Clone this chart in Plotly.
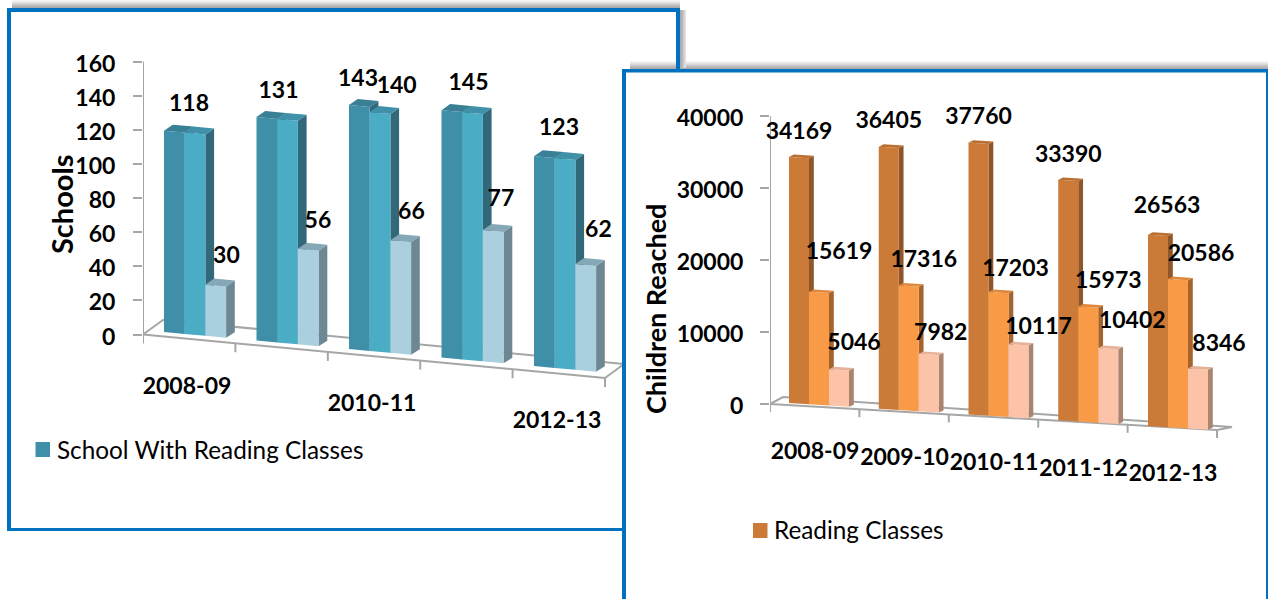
import plotly.graph_objects as go

# ---------- data ----------
school_years = ["2008-09", "2009-10", "2010-11", "2011-12", "2012-13"]
schools_a = [118, 131, 143, 145, 123]
schools_b = [118, 131, 140, 145, 123]
schools_c = [30, 56, 66, 77, 62]
schools_ticks = [0, 20, 40, 60, 80, 100, 120, 140, 160]
schools_shown_years = ["2008-09", "", "2010-11", "", "2012-13"]

children_a = [34169, 36405, 37760, 33390, 26563]
children_b = [15619, 17316, 17203, 15973, 20586]
children_c = [5046, 7982, 10117, 10402, 8346]
children_ticks = [0, 10000, 20000, 30000, 40000]

W, H = 1268, 599
FONT = "Lato"
GREY = "#A6A6A6"
BLUE = "#0070C0"
TEXT_SIZE = 23


def px(x):
    return x / W


def py(y):
    return 1 - y / H


# ---------- projection settings (screen pixels) ----------
LEFT = dict(
    xa="x", ya="y", x0=143, sx=92.4, y0=334.5, sy=1.706, dom=(143, 626), top=40, bottom=425,
    bar0=164, pitch=92.5, barw=20.7, dx=8.7, dy=5.5, base0=332, base_slope=0.092,
    fl_end=(605, 378), back_start=(163, 320), back_end=(624, 364), tick=9,
    cat_drop=(187, 388, 92.5, 8.6), label_dy=0,
    colors=[("#3F8FA8", "#397F95", "#31687A"), ("#4BACC6", "#3F90A8", "#31687A"), ("#AACFDF", "#84A8B5", "#6D8893")],
    nudges=[
        [(25, -25), (22, -25), (9, -25), (27, -26), (25, -27)],
        [None, None, (27, -25), None, None],
        [(21, -27), (20, -27), (21, -27), (18, -30), (23, -33)],
    ],
)
RIGHT = dict(
    xa="x2", ya="y2", x0=770, sx=89.4, y0=404, sy=0.0072, dom=(770, 1240), top=90, bottom=490,
    bar0=789, pitch=89.75, barw=20, dx=4.8, dy=2.2, base0=403, base_slope=0.064,
    fl_end=(1217, 430), back_start=(783, 397), back_end=(1232, 427), tick=8,
    cat_drop=(815, 453.5, 89.5, 5.5), label_dy=2,
    colors=[("#CB7A37", "#B86F30", "#8F562A"), ("#F99A47", "#E0873E", "#A5632E"), ("#FCC3A8", "#E5B199", "#A98571")],
    nudges=[
        [(10, -26), (10, -26), (10, -26), (10, -26), (19, -29)],
        [(30, -41), (25, -26), (27, -24), (30, -26), (33, -26)],
        [(25, -27), (22, -22), (30, -18), (34, -28), (31, -25)],
    ],
)


def build_panel(c, series, ticks, cats):
    tx = lambda p: (p - c["x0"]) / c["sx"]
    ty = lambda p: (c["y0"] - p) / c["sy"]
    traces = []

    def line(pts):
        traces.append(go.Scatter(
            x=[None if p is None else tx(p[0]) for p in pts],
            y=[None if p is None else ty(p[1]) for p in pts],
            xaxis=c["xa"], yaxis=c["ya"], mode="lines", hoverinfo="skip", showlegend=False,
            line=dict(color=GREY, width=2),
        ))

    # floor and axis furniture
    x0, y0 = c["x0"], c["y0"]
    xe, ye = c["fl_end"]
    floor_pts = [(x0, y0), (xe, ye), None, (x0, y0), c["back_start"], c["back_end"], (xe, ye)]
    for i in range(6):
        xt = x0 + (xe - x0) * i / 5
        yt = y0 + (ye - y0) * i / 5
        floor_pts += [None, (xt, yt), (xt, yt + c["tick"])]
    line(floor_pts)
    traces.append(go.Scatter(
        x=[0, 0], y=[ticks[0], ticks[-1]], xaxis=c["xa"], yaxis=c["ya"], mode="lines",
        hoverinfo="skip", showlegend=False, line=dict(color=GREY, width=2),
    ))

    w, dx, dy = c["barw"], c["dx"], c["dy"]
    base = lambda x: c["base0"] + c["base_slope"] * (x - c["bar0"])
    lab_x, lab_y, lab_t = [], [], []
    for s, values in enumerate(series):
        front_x, front_y, top_x, top_y, side_x, side_y = [], [], [], [], [], []
        for g, v in enumerate(values):
            xl = c["bar0"] + g * c["pitch"] + s * w
            xr = xl + w
            bl, br = ty(base(xl)), ty(base(xr))
            ddy = dy / c["sy"]
            front_x += [tx(xl), tx(xr), tx(xr), tx(xl), tx(xl), None]
            front_y += [bl, br, br + v, bl + v, bl, None]
            top_x += [tx(xl), tx(xr), tx(xr + dx), tx(xl + dx), tx(xl), None]
            top_y += [bl + v, br + v, br + v + ddy * 1.1, bl + v + ddy * 1.1, bl + v, None]
            side_x += [tx(xr), tx(xr + dx), tx(xr + dx), tx(xr), tx(xr), None]
            side_y += [br, br + ddy, br + v + ddy * 1.1, br + v, br, None]
            n = c["nudges"][s][g]
            if n is not None:
                lab_x.append(tx(xl + n[0]))
                lab_y.append(bl + v - (n[1] + c["label_dy"]) / c["sy"])
                lab_t.append(str(v))
        cols = c["colors"][s]
        for xs, ys, col in ((side_x, side_y, cols[2]), (front_x, front_y, cols[0]), (top_x, top_y, cols[1])):
            traces.append(go.Scatter(
                x=xs, y=ys, xaxis=c["xa"], yaxis=c["ya"], mode="lines", fill="toself", fillcolor=col,
                line=dict(width=0, color=col), hoverinfo="skip", showlegend=False,
            ))

    # category labels, sheared with the floor
    cx, cy, step, drop = c["cat_drop"]
    traces.append(go.Scatter(
        x=[tx(cx + i * step) for i in range(5)], y=[ty(cy + i * drop) for i in range(5)],
        text=cats, mode="text", xaxis=c["xa"], yaxis=c["ya"], cliponaxis=False, hoverinfo="skip",
        showlegend=False, textposition="middle center",
        textfont=dict(family=FONT, size=TEXT_SIZE, color="#000000", weight=700),
    ))
    # value labels
    traces.append(go.Scatter(
        x=lab_x, y=lab_y, text=lab_t, mode="text", xaxis=c["xa"], yaxis=c["ya"], cliponaxis=False,
        hoverinfo="skip", showlegend=False, textposition="middle center",
        textfont=dict(family=FONT, size=TEXT_SIZE, color="#000000", weight=700),
    ))
    return traces


fig = go.Figure()
fig.add_traces(build_panel(LEFT, [schools_a, schools_b, schools_c], schools_ticks, schools_shown_years))
fig.add_traces(build_panel(RIGHT, [children_a, children_b, children_c], children_ticks, school_years))


def axes(c, ticks, standoff):
    xr = [(c["dom"][0] - c["x0"]) / c["sx"], (c["dom"][1] - c["x0"]) / c["sx"]]
    yr = [(c["y0"] - c["bottom"]) / c["sy"], (c["y0"] - c["top"]) / c["sy"]]
    xax = dict(domain=[px(c["dom"][0]), px(c["dom"][1])], range=xr, visible=False, fixedrange=True,
               anchor=c["ya"])
    yax = dict(domain=[py(c["bottom"]), py(c["top"])], range=yr, anchor=c["xa"], tickmode="array",
               tickvals=ticks, ticktext=[str(t) for t in ticks], ticks="outside", ticklen=9, tickwidth=2,
               tickcolor=GREY, showgrid=False, zeroline=False, showline=False, fixedrange=True,
               ticklabelstandoff=standoff, ticklabelshift=2,
               tickfont=dict(family=FONT, size=TEXT_SIZE, color="#000000", weight=700))
    return xax, yax


xa1, ya1 = axes(LEFT, schools_ticks, 13)
xa2, ya2 = axes(RIGHT, children_ticks, 12)

shapes = []


def rect(x0, y0, x1, y1, color, layer="above"):
    shapes.append(dict(type="rect", xref="paper", yref="paper", x0=px(x0), x1=px(x1), y0=py(y0), y1=py(y1),
                       fillcolor=color, line=dict(width=0), layer=layer))


# soft shadows above the cards
shade = ["#F6F6F6", "#EDEDED", "#E2E2E2", "#D6D6D6", "#C9C9C9", "#BDBDBD", "#B2B2B2", "#ABABAB"]
for i, col in enumerate(shade):
    rect(12, i, 680, i + 1, col, "below")
    rect(630, 61 + i, 1268, 62 + i, col, "below")
for i, col in enumerate(reversed(shade[2:])):
    rect(680 + i, 10, 681 + i, 68, col, "below")
# frames
rect(7, 8, 680, 12, BLUE)
rect(7, 8, 11, 531, BLUE)
rect(7, 528, 623, 531, BLUE)
rect(676, 8, 680, 69, BLUE)
rect(622, 69, 1268, 72.5, BLUE)
rect(622, 69, 626, 599, BLUE)
rect(1266, 69, 1268, 599, BLUE)
# legend swatches
rect(35.5, 442, 50, 457, "#3F8FA8")
rect(753, 523, 767.5, 538, "#CB7A37")


def note(x, y, text, size, bold=False, angle=0, xanchor="center"):
    return dict(x=px(x), y=py(y), xref="paper", yref="paper", text=text, showarrow=False, textangle=angle,
                xanchor=xanchor, yanchor="middle",
                font=dict(family=FONT, size=size, color="#000000", weight=700 if bold else 400))


annotations = [
    note(62, 205, "Schools", 29, True, -90),
    note(655, 309, "Children Reached", 27, True, -90),
    note(55, 449, "School With Reading Classes", 24.3, xanchor="left"),
    note(772, 529, "Reading Classes", 24.3, xanchor="left"),
]

fig.update_layout(
    width=W, height=H, margin=dict(l=0, r=0, t=0, b=0), autosize=False,
    paper_bgcolor="#FFFFFF", plot_bgcolor="rgba(0,0,0,0)", showlegend=False,
    xaxis=xa1, yaxis=ya1, xaxis2=xa2, yaxis2=ya2, shapes=shapes, annotations=annotations,
)

fig.write_html("out.html", config={"displayModeBar": False},
               post_script="document.body.style.margin='0';document.body.style.overflow='hidden';")
